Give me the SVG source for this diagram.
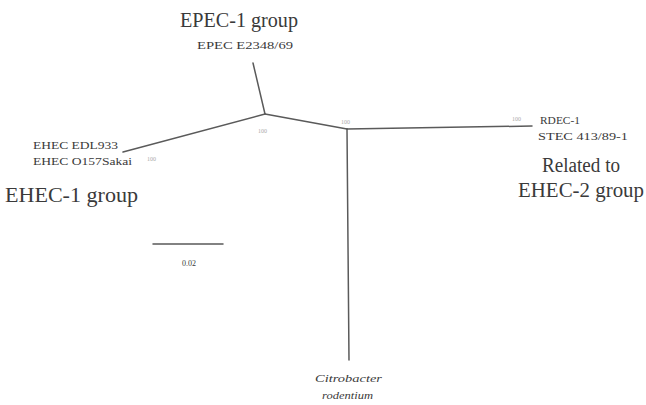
<svg xmlns="http://www.w3.org/2000/svg" width="646" height="405" viewBox="0 0 646 405">
<style>
.br{stroke:#5a5a5a;stroke-width:1.5;fill:none;stroke-linecap:round}
.t{font-family:"Liberation Serif","Times New Roman",serif;fill:#3a3a3a}
.big{font-size:20px}
.sm{font-size:9.5px}
.bs{font-family:"Liberation Serif",serif;font-size:6px;fill:#aaa}
.it{font-style:italic}
</style>
<rect width="646" height="405" fill="#fff"/>
<g id="connectors">
<line class="br" x1="253" y1="63" x2="265" y2="114"/>
<line class="br" x1="265" y1="114" x2="123" y2="152"/>
<line class="br" x1="265" y1="114" x2="347" y2="129"/>
<line class="br" x1="347" y1="129" x2="532" y2="126"/>
<line class="br" x1="347" y1="129" x2="349" y2="360"/>
</g>
<g id="node-epec">
<text class="t big" x="180" y="27" textLength="118" lengthAdjust="spacingAndGlyphs">EPEC-1 group</text>
<text class="t sm" x="197" y="49" textLength="96" lengthAdjust="spacingAndGlyphs">EPEC E2348/69</text>
</g>
<g id="node-ehec1">
<text class="t sm" x="33" y="149" textLength="85" lengthAdjust="spacingAndGlyphs">EHEC EDL933</text>
<text class="t sm" x="33" y="165" textLength="99" lengthAdjust="spacingAndGlyphs">EHEC O157Sakai</text>
<text class="bs" x="147" y="161">100</text>
<text class="t big" x="5" y="202" textLength="133" lengthAdjust="spacingAndGlyphs">EHEC-1 group</text>
</g>
<g id="node-a"><text class="bs" x="258" y="133">100</text></g>
<g id="node-b"><text class="bs" x="341" y="124">100</text></g>
<g id="node-ehec2">
<text class="bs" x="512" y="121">100</text>
<text class="t sm" x="540" y="124" textLength="40" lengthAdjust="spacingAndGlyphs">RDEC-1</text>
<text class="t sm" x="538" y="140" textLength="90" lengthAdjust="spacingAndGlyphs">STEC 413/89-1</text>
<text class="t big" x="542" y="172" textLength="78" lengthAdjust="spacingAndGlyphs">Related to</text>
<text class="t big" x="518" y="197" textLength="126" lengthAdjust="spacingAndGlyphs">EHEC-2 group</text>
</g>
<g id="node-citro">
<text class="t sm it" x="315" y="382" textLength="67" lengthAdjust="spacingAndGlyphs">Citrobacter</text>
<text class="t sm it" x="322" y="399" textLength="51" lengthAdjust="spacingAndGlyphs">rodentium</text>
</g>
<g id="scale">
<line class="br" x1="153" y1="244" x2="223" y2="244"/>
<text class="t" x="189" y="266" text-anchor="middle" font-size="8">0.02</text>
</g>
</svg>
